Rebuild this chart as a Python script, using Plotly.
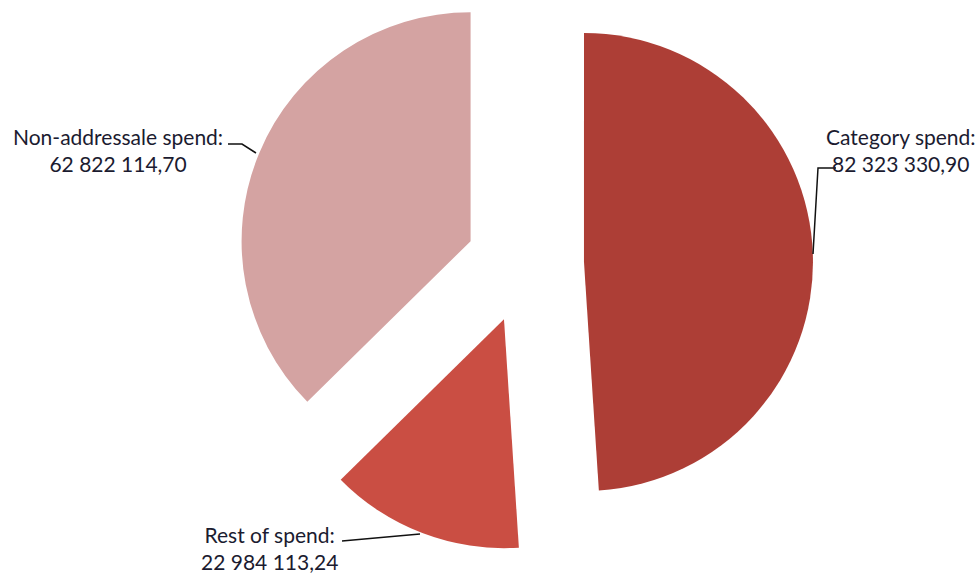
import math
import plotly.graph_objects as go

# ---- data ----
labels = ["Category spend", "Rest of spend", "Non-addressale spend"]
values = [82323330.90, 22984113.24, 62822114.70]
colors = ["#AD3E36", "#CA4E43", "#D4A3A2"]

# ---- layout geometry (pixels) ----
W, H = 979, 573
CX, CY = 525, 264      # pie centre before explode
R = 229                # radius
PULL = 59              # explode distance


def fmt(v):
    return f"{v:,.2f}".replace(",", " ").replace(".", ",")


total = sum(values)
fig = go.Figure()
start = 0.0
for i, (lab, val, col) in enumerate(zip(labels, values, colors)):
    frac = val / total
    mid = (start + frac / 2) * 2 * math.pi   # clockwise from 12 o'clock
    start += frac
    cx = CX + PULL * math.sin(mid)
    cy = CY - PULL * math.cos(mid)
    cols = ["rgba(0,0,0,0)"] * len(values)
    cols[i] = col
    fig.add_trace(go.Pie(
        labels=labels, values=values, sort=False, direction="clockwise",
        rotation=0, textinfo="none", hoverinfo="label+value",
        marker=dict(colors=cols, line=dict(width=0)),
        domain=dict(x=[(cx - R) / W, (cx + R) / W],
                    y=[1 - (cy + R) / H, 1 - (cy - R) / H]),
        showlegend=False,
    ))

# label positions (pixel centres) and leader-line paths
label_pos = [(901, 150), (269, 548), (118, 150)]
leaders = [
    [(836, 168), (818, 168), (813, 254)],
    [(342, 541), (420, 534)],
    [(228, 144), (242, 144), (256, 153)],
]


def px(x, y):
    return x / W, 1 - y / H


for lab, val, (lx, ly) in zip(labels, values, label_pos):
    x, y = px(lx, ly)
    fig.add_annotation(x=x, y=y, xref="paper", yref="paper",
                       text=f"{lab}:<br>{fmt(val)}", showarrow=False,
                       align="center", xanchor="center", yanchor="middle",
                       font=dict(family="Lato", size=21, color="#1b1b30"))

for pts in leaders:
    path = "M " + " L ".join(f"{px(x, y)[0]} {px(x, y)[1]}" for x, y in pts)
    fig.add_shape(type="path", path=path, xref="paper", yref="paper",
                  line=dict(color="#111111", width=1.5))

fig.update_layout(width=W, height=H, margin=dict(l=0, r=0, t=0, b=0),
                  paper_bgcolor="white", plot_bgcolor="white")
fig.write_html("out.html", config={"displayModeBar": False},
               post_script="document.body.style.margin='0';"
                           "document.body.style.overflow='hidden';")
